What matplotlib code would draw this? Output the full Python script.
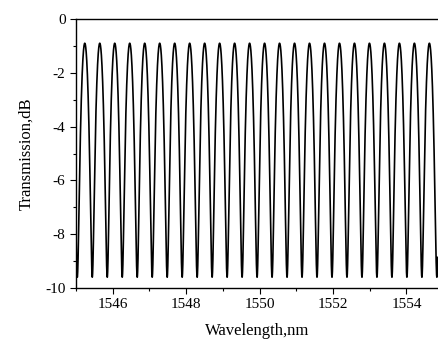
import numpy as np
import matplotlib
matplotlib.use("Agg")
import matplotlib.pyplot as plt
from matplotlib.ticker import MultipleLocator

# =========================
# 1. Data
# =========================
# wavelengths of the transmission peaks (nm)
peak_wl = [1545.24, 1545.65, 1546.06, 1546.46, 1546.87, 1547.28, 1547.69, 1548.10,
           1548.50, 1548.91, 1549.32, 1549.73, 1550.14, 1550.54, 1550.95, 1551.36,
           1551.77, 1552.18, 1552.58, 1552.99, 1553.40, 1553.81, 1554.22, 1554.62]
peak_db = -0.9      # level of the maxima
trough_db = -9.6    # level of the minima

x_range = [1545.0, 1554.85]
y_range = [-10, 0]
x_ticks = [1546, 1548, 1550, 1552, 1554]
y_ticks = [0, -2, -4, -6, -8, -10]

# =========================
# 2. Interferometer fringe through the peaks
# =========================
period, offset = np.polyfit(np.arange(len(peak_wl)), peak_wl, 1)
wl = np.linspace(x_range[0], x_range[1], 6000)
phase = 2 * np.pi * (wl - offset) / period
t_max = 10 ** (peak_db / 10)
t_min = 10 ** (trough_db / 10)
trans = 10 * np.log10(t_min + (t_max - t_min) * np.cos(phase / 2) ** 2)

# =========================
# 3. Plot
# =========================
plt.rcParams['font.family'] = ['Liberation Serif', 'DejaVu Serif']
plt.rcParams['axes.unicode_minus'] = False

fig = plt.figure(figsize=(4.39, 3.40), dpi=100)
ax = fig.add_axes([0.173, 0.153, 0.824, 0.791])
ax.plot(wl, trans, color='black', lw=1.2)

ax.set_xlim(x_range)
ax.set_ylim(y_range)
ax.set_xticks(x_ticks)
ax.set_yticks(y_ticks)
ax.xaxis.set_minor_locator(MultipleLocator(1))
ax.yaxis.set_minor_locator(MultipleLocator(1))
ax.tick_params(which='major', direction='out', length=4, width=0.8, labelsize=11)
ax.tick_params(which='minor', direction='out', length=2.5, width=0.8)
ax.tick_params(which='both', top=False, right=False)
ax.spines['right'].set_visible(False)
for s in ['left', 'bottom', 'top']:
    ax.spines[s].set_linewidth(1.0)

ax.set_xlabel("Wavelength,nm", fontsize=12, labelpad=8)
ax.set_ylabel("Transmission,dB", fontsize=12, labelpad=8)

fig.savefig("out.png", dpi=100)
